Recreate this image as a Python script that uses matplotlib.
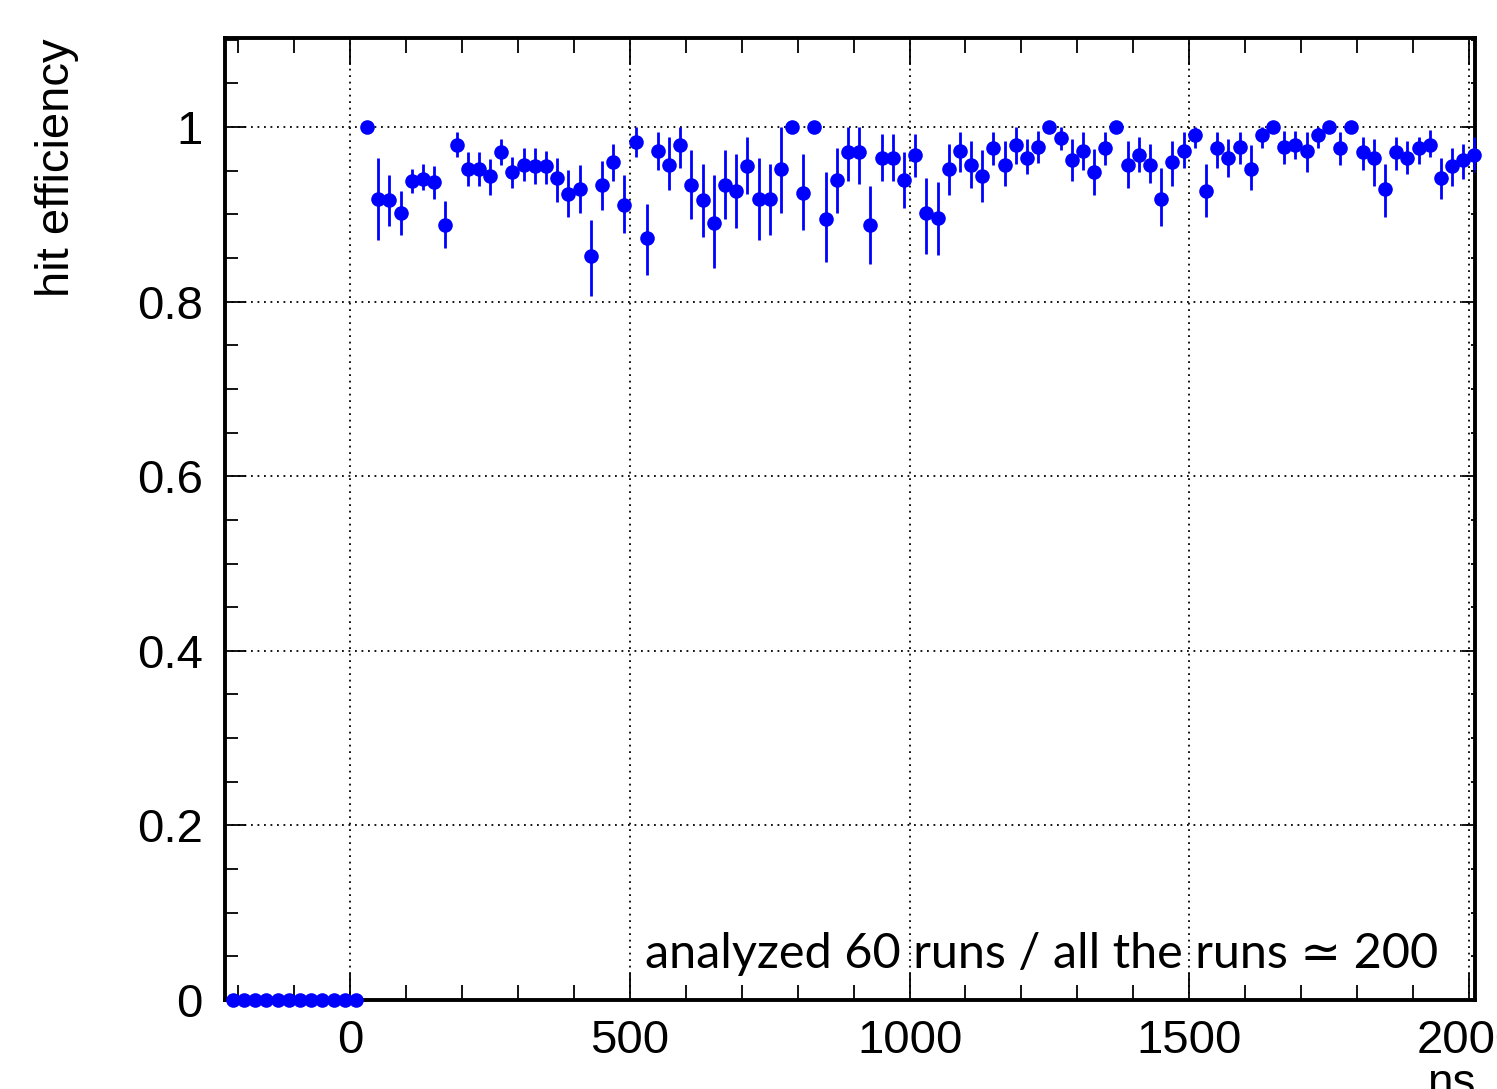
import numpy as np
import matplotlib
matplotlib.use("Agg")
import matplotlib.pyplot as plt
from matplotlib.ticker import MultipleLocator, FuncFormatter

# ---- data ----
# bin centres (ns) of the negative-time bins (efficiency 0)
x_neg = [-210, -190, -170, -150, -130, -110, -90, -70, -50, -30, -10, 10]
eff_neg = [0.0] * 12

# bin centres (ns) of the positive-time bins
x_pos = [30, 50, 70, 90, 110, 130, 150, 170, 190, 210,
         230, 250, 270, 290, 310, 330, 350, 370, 390, 410,
         430, 450, 470, 490, 510, 530, 550, 570, 590, 610,
         630, 650, 670, 690, 710, 730, 750, 770, 790, 810,
         830, 850, 870, 890, 910, 930, 950, 970, 990, 1010,
         1030, 1050, 1070, 1090, 1110, 1130, 1150, 1170, 1190, 1210,
         1230, 1250, 1270, 1290, 1310, 1330, 1350, 1370, 1390, 1410,
         1430, 1450, 1470, 1490, 1510, 1530, 1550, 1570, 1590, 1610,
         1630, 1650, 1670, 1690, 1710, 1730, 1750, 1770, 1790, 1810,
         1830, 1850, 1870, 1890, 1910, 1930, 1950, 1970, 1990, 2010]

eff = [1.000, 0.918, 0.916, 0.901, 0.938, 0.941, 0.937, 0.888, 0.980, 0.952,
       0.952, 0.944, 0.971, 0.949, 0.957, 0.955, 0.955, 0.942, 0.923, 0.929,
       0.852, 0.934, 0.960, 0.911, 0.983, 0.873, 0.973, 0.957, 0.979, 0.934,
       0.916, 0.890, 0.934, 0.927, 0.955, 0.918, 0.918, 0.952, 1.000, 0.924,
       1.000, 0.895, 0.939, 0.971, 0.971, 0.888, 0.965, 0.965, 0.939, 0.968,
       0.901, 0.896, 0.952, 0.973, 0.957, 0.944, 0.976, 0.957, 0.980, 0.965,
       0.977, 1.000, 0.988, 0.962, 0.973, 0.949, 0.976, 1.000, 0.957, 0.968,
       0.957, 0.918, 0.960, 0.972, 0.991, 0.927, 0.976, 0.965, 0.977, 0.952,
       0.991, 1.000, 0.977, 0.980, 0.973, 0.991, 1.000, 0.976, 1.000, 0.971,
       0.965, 0.929, 0.971, 0.965, 0.976, 0.980, 0.942, 0.955, 0.962, 0.968]

eff_up = [1.000, 0.965, 0.945, 0.927, 0.952, 0.958, 0.955, 0.915, 0.994, 0.971,
          0.971, 0.963, 0.986, 0.966, 0.976, 0.976, 0.973, 0.965, 0.951, 0.956,
          0.894, 0.961, 0.981, 0.945, 1.000, 0.912, 0.994, 0.989, 1.000, 0.974,
          0.958, 0.945, 0.974, 0.969, 0.989, 0.965, 0.958, 1.000, 1.000, 0.969,
          1.000, 0.948, 0.976, 1.000, 1.000, 0.932, 0.992, 0.992, 0.971, 0.992,
          0.942, 0.937, 0.981, 0.994, 0.984, 0.974, 0.994, 0.984, 1.000, 0.986,
          0.996, 1.000, 1.000, 0.986, 0.994, 0.975, 0.994, 1.000, 0.984, 0.989,
          0.981, 0.953, 0.984, 0.994, 1.000, 0.958, 0.994, 0.986, 0.994, 0.979,
          1.000, 1.000, 0.996, 0.996, 0.994, 1.000, 1.000, 0.994, 1.000, 0.989,
          0.986, 0.958, 0.989, 0.984, 0.989, 0.997, 0.965, 0.976, 0.981, 0.989]

eff_lo = [1.000, 0.871, 0.887, 0.876, 0.925, 0.928, 0.917, 0.861, 0.966, 0.933,
          0.933, 0.922, 0.956, 0.930, 0.938, 0.935, 0.935, 0.914, 0.897, 0.902,
          0.806, 0.905, 0.938, 0.879, 0.966, 0.830, 0.951, 0.928, 0.953, 0.895,
          0.874, 0.838, 0.895, 0.884, 0.923, 0.871, 0.876, 0.902, 1.000, 0.882,
          1.000, 0.845, 0.902, 0.938, 0.935, 0.843, 0.938, 0.938, 0.907, 0.943,
          0.855, 0.853, 0.922, 0.948, 0.930, 0.914, 0.956, 0.932, 0.958, 0.946,
          0.959, 1.000, 0.974, 0.938, 0.951, 0.922, 0.956, 1.000, 0.930, 0.948,
          0.936, 0.887, 0.932, 0.953, 0.976, 0.897, 0.953, 0.943, 0.958, 0.928,
          0.976, 1.000, 0.958, 0.963, 0.948, 0.976, 1.000, 0.956, 1.000, 0.951,
          0.932, 0.897, 0.951, 0.946, 0.958, 0.966, 0.918, 0.932, 0.940, 0.948]

bin_half_width = 10  # ns

# ---- figure ----
plt.rcParams['font.family'] = ['Liberation Sans', 'DejaVu Sans']
W, H = 1497, 1089
fig = plt.figure(figsize=(W / 100, H / 100), dpi=100)
ax = fig.add_axes([225 / W, 1 - 1000 / H, (1475 - 225) / W, (1000 - 38) / H])

ax.set_xlim(-224, 2011)
ax.set_ylim(0, 1.102)

blue = '#0000ff'
x_all = x_neg + x_pos
y_all = eff_neg + eff
lo_all = [0.0] * len(x_neg) + [e - l for e, l in zip(eff, eff_lo)]
hi_all = [0.0] * len(x_neg) + [u - e for e, u in zip(eff, eff_up)]

eb = ax.errorbar(x_all, y_all, yerr=[lo_all, hi_all], xerr=bin_half_width,
                 fmt='o', color=blue, ms=10.5, mew=0, elinewidth=2.0,
                 capsize=0, zorder=5)
for art in eb.get_children():
    art.set_clip_on(False)

# grid
ax.set_axisbelow(True)
ax.grid(True, which='major', color='black', ls=(0, (1, 2.6)), lw=1.3)

# ticks
ax.xaxis.set_major_locator(MultipleLocator(500))
ax.xaxis.set_minor_locator(MultipleLocator(100))
ax.yaxis.set_major_locator(MultipleLocator(0.2))
ax.yaxis.set_minor_locator(MultipleLocator(0.05))
fmt = FuncFormatter(lambda v, p: f'{v:g}')
ax.xaxis.set_major_formatter(fmt)
ax.yaxis.set_major_formatter(fmt)

ax.tick_params(axis='x', which='both', direction='in', top=True, bottom=True,
               labelsize=34, pad=14, width=1.3, color='black')
ax.tick_params(axis='x', which='major', length=19.5)
ax.tick_params(axis='x', which='minor', length=11)
ax.tick_params(axis='y', which='both', direction='in', left=True, right=False,
               labelsize=34, pad=16, width=1.3, color='black')
ax.tick_params(axis='y', which='major', length=15)
ax.tick_params(axis='y', which='minor', length=9)

# right-hand ticks (shorter)
axr = ax.twinx()
axr.set_ylim(ax.get_ylim())
axr.yaxis.set_major_locator(MultipleLocator(0.2))
axr.yaxis.set_minor_locator(MultipleLocator(0.05))
axr.tick_params(axis='y', which='both', direction='in', right=True,
                labelright=False, width=1.3, color='black')
axr.tick_params(axis='y', which='major', length=9.5)
axr.tick_params(axis='y', which='minor', length=3)
for s in axr.spines.values():
    s.set_visible(False)

for s in ax.spines.values():
    s.set_linewidth(2.8)
    s.set_color('black')

# axis labels
ax.set_ylabel('hit efficiency', fontsize=34, ha='right')
ax.yaxis.set_label_coords(-0.117, 1.0)
ax.set_xlabel('ns', fontsize=33, ha='right', va='top')
ax.xaxis.set_label_coords(1.0, -0.064)

# annotation
ax.text(0.336, 0.033, 'analyzed 60 runs / all the runs \u2243 200',
        transform=ax.transAxes, fontsize=35, va='baseline', ha='left',
        family=['Lato', 'DejaVu Sans'], color='black', zorder=6)

fig.savefig('out.png', dpi=100)
